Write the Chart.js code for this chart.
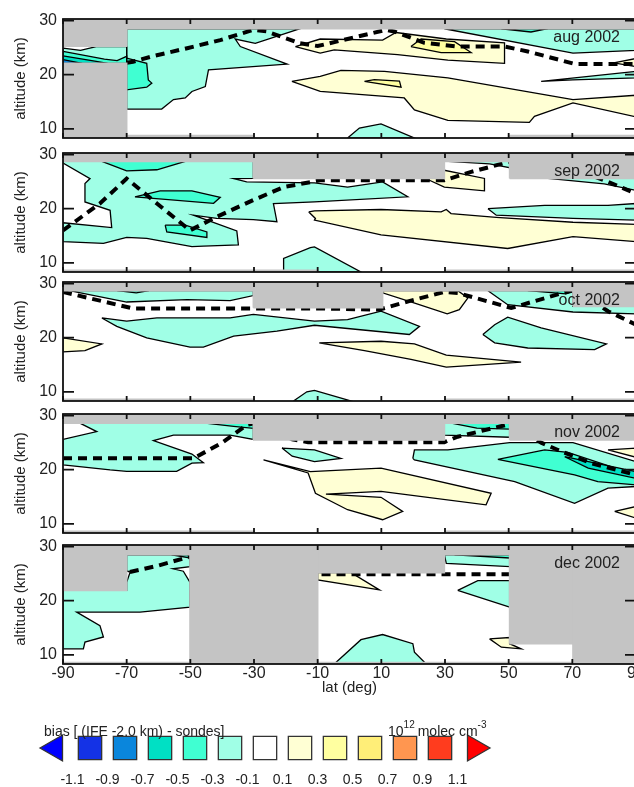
<!DOCTYPE html>
<html>
<head>
<meta charset="utf-8">
<script src="https://cdn.jsdelivr.net/npm/chart.js@4.4.1/dist/chart.umd.min.js"></script>
<style>
html, body { margin: 0; padding: 0; background: #fff; overflow: hidden; width: 634px; height: 787px; }
canvas { position: absolute; left: 0; }
</style>
</head>
<body>
<canvas id="p0" width="640" height="134" style="top:7px"></canvas>
<canvas id="p1" width="640" height="134" style="top:141px"></canvas>
<canvas id="p2" width="640" height="134" style="top:270px"></canvas>
<canvas id="p3" width="640" height="134" style="top:402px"></canvas>
<canvas id="p4" width="640" height="171" style="top:533px"></canvas>
<canvas id="cbar" width="634" height="87" style="top:700px"></canvas>
<script>
// axes
const latTicks = [-90, -70, -50, -30, -10, 10, 30, 50, 70, 90];
const altTicks = [10, 20, 30];
const months = ['aug 2002', 'sep 2002', 'oct 2002', 'nov 2002', 'dec 2002'];

// colour levels (<-1.1 ... >1.1)
const levelColors = ['#0000ff', '#1432e6', '#0a86dc', '#00e0c4', '#40ffd2', '#a0ffe6', '#ffffff',
                     '#ffffd4', '#ffffa0', '#ffee78', '#ff9650', '#ff3c1e', '#ff0000'];
const levelTicks = ['-1.1', '-0.9', '-0.7', '-0.5', '-0.3', '-0.1', '0.1', '0.3', '0.5', '0.7', '0.9', '1.1'];
const noDataColor = '#c4c4c4';

// contour regions [lat, alt]
// aug 2002
const augNoData = [
  [[-90, 25.25], [-70, 25.25], [-70, 30.6], [-90, 30.6]],
  [[-90, 8], [-70, 8], [-70, 22.1], [-90, 22.1]],
  [[-70, 28.5], [90, 28.5], [90, 30.6], [-70, 30.6]],
  [[-70, 8], [-30, 8], [-30, 8.75], [-70, 8.75]],
  [[50, 8], [90, 8], [90, 8.75], [50, 8.75]]
];
const augM01 = [
  [[-70, 28.5], [-15.5, 28.5], [-29.6, 25.8], [-35.9, 26.6], [-34.3, 25.2], [-19.6, 21.95], [-44.3, 20.9], [-45.3, 17.8],
   [-49.5, 16.9], [-51.6, 15.7], [-55.3, 15.4], [-59, 13.65], [-70, 13.65]],
  [[-90, 24.9], [-84.5, 24.5], [-79.6, 25.2], [-70, 25.2], [-70, 22.1], [-90, 22.1]],
  [[29.8, 28.5], [70.2, 24.0], [90, 24.5], [90, 28.5]],
  [[60.2, 18.75], [90, 20.6], [90, 19.4], [70.2, 19.05]],
  [[-0.6, 8.3], [3.1, 10.15], [9.9, 10.9], [20.4, 8.3]]
];
const augM03 = [
  [[-70, 23.06], [-63.7, 22.1], [-63.2, 19.05], [-62.1, 18.45], [-63.7, 17.7], [-70, 17.2]],
  [[47.7, 28.5], [57, 27.9], [62.3, 28.5]],
  [[-90, 24.3], [-77, 22.9], [-73, 22.6], [-70, 23.4], [-70, 22.1], [-90, 22.1]]
];
const augM05 = [[[-90, 23.5], [-80, 22.5], [-76, 22.1], [-90, 22.1]]];
const augM07 = [[[-90, 22.8], [-84, 22.1], [-90, 22.1]]];
const augP01 = [
  [[-17, 25.2], [-9.2, 26.6], [10.4, 26.4], [14.6, 27.8], [30.4, 26.6], [48.7, 25.9], [48.7, 22.1], [30.9, 22.7],
   [15.1, 23.7], [-4.8, 24.6], [-9.2, 24.0]],
  [[-18.1, 18.75], [-9.2, 19.7], [-2.7, 20.8], [11, 20.6], [30.9, 19.4], [70.2, 15.4], [90, 16.2], [90, 12.2],
   [70.2, 14.8], [58.1, 12.3], [56.5, 11.2], [30.9, 11.55], [20.4, 13.5], [17.2, 15.7], [-9.2, 16.9]],
  [[83, 22.2], [90, 23], [90, 21.5]]
];
const augP03 = [
  [[19.3, 25.2], [22.5, 26.6], [33, 26.1], [38.2, 24.1], [28.8, 24.1]],
  [[4.7, 18.75], [7.8, 19.1], [15.7, 18.8], [16.2, 17.7]]
];
const augTropo = [[-70, 22.2], [-68, 22.4], [-62, 23.4], [-51, 24.9], [-40.6, 26.4], [-30.2, 28.3], [-26, 28.0],
  [-15.5, 25.8], [-10, 25.3], [1.5, 26.9], [11.5, 28.3], [14, 28.0], [23.5, 25.9], [34, 25.2], [48.7, 25.2],
  [56, 24.3], [70.7, 22.0], [90, 22.0]];

// sep 2002
const sepNoData = [
  [[-90, 28.76], [90, 28.76], [90, 30.6], [-90, 30.6]],
  [[-30.2, 25.6], [29.8, 25.6], [29.8, 30.6], [-30.2, 30.6]],
  [[50.3, 25.6], [90, 25.6], [90, 30.6], [50.3, 30.6]],
  [[-90, 8], [-10, 8], [-10, 8.6], [-90, 8.6]],
  [[30, 8], [90, 8], [90, 8.6], [30, 8.6]]
];
const sepM01 = [
  [[-90, 28.76], [-30.2, 28.76], [-30.2, 25.6], [-36.4, 25.57], [-32.3, 24.95], [-11, 24.76], [-0.6, 24.0], [10.4, 24.95],
   [18.3, 22.2], [-11, 21.25], [-23.9, 20.96], [-22.8, 17.6], [-30.2, 18.0], [-41.7, 18.2], [-49, 18.8], [-35.4, 15.9],
   [-34.9, 13.3], [-45.9, 13.1], [-49.5, 13.0], [-63.7, 14.5], [-70, 14.7], [-77.3, 13.6], [-90, 13.9], [-90, 17.4],
   [-74.7, 16.5], [-75.2, 19.7], [-83.1, 21.25], [-83.1, 24.65], [-81.5, 25.57], [-90, 28.45]],
  [[-20.7, 8.3], [-20.7, 10.8], [-12.3, 12.8], [-11, 12.95], [3.6, 8.3]],
  [[43.5, 20.0], [61.3, 20.6], [81.2, 20.6], [90, 20.96], [90, 17.9], [70.2, 18.2], [46.1, 18.8]],
  [[62.3, 25.6], [90, 25.6], [90, 23.4], [80, 24.6]],
  [[31, 28.76], [50.3, 28.76], [50.3, 27.6], [44, 28.3]]
];
const sepM03 = [
  [[-77.8, 28.76], [-70, 27.0], [-60.5, 27.2], [-51.6, 28.76]],
  [[-67.4, 22.2], [-59.5, 23.3], [-49.5, 23.3], [-40.6, 22.1], [-42.7, 21.0]],
  [[-57.9, 16.95], [-51.6, 16.95], [-44.8, 15.7], [-44.8, 14.7], [-57.4, 15.7]]
];
const sepP01 = [
  [[-12.8, 19.4], [-11, 19.6], [9.9, 19.85], [28.8, 19.4], [30.4, 19.85], [31.9, 19.1], [46.1, 18.4], [70.2, 17.5],
   [90, 17.1], [90, 13.9], [70.2, 14.85], [49.7, 12.65], [9.9, 15.15], [-11, 17.9], [-10.7, 18.2]],
  [[24.6, 25.4], [29.8, 27.1], [42.4, 25.6], [42.4, 23.3], [29.8, 24.0]]
];
const sepTropo = [[-90, 16.0], [-78.4, 20.96], [-70, 25.57], [-60.5, 20.96], [-50.1, 16.0], [-41.7, 18.5], [-30.2, 21.6],
  [-20.7, 24.0], [-9.2, 25.25], [29.8, 25.25], [38.2, 26.8], [49.7, 28.6], [60, 29.5], [80.1, 25.25], [90, 22.8]];

// oct 2002
const octNoData = [
  [[-90, 28.7], [90, 28.7], [90, 30.6], [-90, 30.6]],
  [[-30.2, 25.55], [10.4, 25.55], [10.4, 30.6], [-30.2, 30.6]],
  [[70.2, 25.8], [90, 25.8], [90, 30.6], [70.2, 30.6]],
  [[-90, 8], [-30, 8], [-30, 8.6], [-90, 8.6]],
  [[30, 8], [90, 8], [90, 8.6], [30, 8.6]]
];
const octM01 = [
  [[-88, 28.7], [-70, 26.6], [-51, 27.05], [-37.5, 26.86], [-30.2, 27.8], [-30.2, 28.7]],
  [[-77.8, 23.65], [-70, 23.05], [-60.5, 23.65], [-37.5, 23.65], [-30.2, 24.3], [-11, 23.05], [-0.6, 23.36], [9.9, 24.9],
   [22, 22.1], [18.8, 20.6], [-0.6, 21.7], [-11, 22.3], [-22.8, 21.2], [-36.4, 20.3], [-45.9, 18.25], [-50.1, 18.25],
   [-63.7, 19.96], [-73.1, 22.1]],
  [[41.9, 20.6], [45.6, 22.4], [49.7, 23.8], [60.2, 21.8], [80.7, 18.85], [77, 17.8], [56, 18.1], [45.6, 19.05]],
  [[43.5, 28.7], [70.2, 28.7], [70.2, 25.8], [90, 25.8], [90, 24.4], [70.2, 24.75], [49.7, 26.1]],
  [[-17.6, 8.3], [-13.4, 10.0], [-11, 10.26], [0.5, 8.3]]
];
const octM03 = [
  [[-73, 28.7], [-67, 28.3], [-63, 28.7]],
  [[56, 28.7], [68, 28.1], [70.2, 28.5], [70.2, 28.7]]
];
const octP01 = [
  [[-90, 19.96], [-77.8, 18.85], [-83.1, 17.6], [-90, 17.4]],
  [[-9.5, 19.05], [9.9, 19.35], [20.4, 18.85], [30.4, 16.8], [53.9, 15.5], [30.4, 14.55], [19.3, 16.0], [4.7, 17.6]],
  [[10.4, 28.7], [34, 28.7], [37.2, 27.35], [34.5, 25.2], [30.7, 24.4], [20, 26.5], [10.4, 28.3]]
];
const octTropo = [[-90, 28.45], [-77.3, 26.7], [-67.9, 25.4], [-9.2, 25.4], [9.4, 25.2], [19.3, 26.86], [29.8, 28.45],
  [34, 28.27], [50.8, 25.5], [67, 28.27], [71, 29], [81.2, 24.9], [90, 22.4]];

// nov 2002
const novNoData = [
  [[-90, 28.6], [90, 28.6], [90, 30.6], [-90, 30.6]],
  [[-30.2, 25.5], [29.8, 25.5], [29.8, 30.6], [-30.2, 30.6]],
  [[50.3, 25.5], [90, 25.5], [90, 30.6], [50.3, 30.6]],
  [[-90, 8], [-30, 8], [-30, 8.6], [-90, 8.6]],
  [[30, 8], [90, 8], [90, 8.6], [30, 8.6]]
];
const novM01 = [
  [[-84.7, 28.6], [-30.2, 28.6], [-30.2, 25.6], [-37.5, 26.4], [-55.3, 26.4], [-61.6, 25.4], [-49.5, 22.9], [-45.9, 21.3],
   [-49.5, 21.2], [-54.3, 19.7], [-70, 19.7], [-75.2, 19.96], [-90, 20.9], [-90, 25.6], [-79.4, 27.05]],
  [[-21.2, 24.0], [-11, 23.65], [-2.7, 22.1], [-11, 21.5], [-18, 22.5]],
  [[19.9, 22.1], [20.4, 23.65], [30.9, 23.65], [50.3, 25.0], [70.2, 25.0], [90, 21.5], [90, 16.9], [81.2, 16.6],
   [70.7, 13.8], [51.9, 17.8], [20.4, 21.8]],
  [[29.8, 28.6], [50.3, 28.6], [50.3, 26.0], [29.8, 26.4]]
];
const novM03 = [
  [[-45.3, 28.6], [-30.2, 28.6], [-30.2, 27.65], [-36.4, 28.0]],
  [[32, 28.6], [50.3, 28.6], [50.3, 27.5], [40, 27.7]],
  [[46.6, 21.9], [61.3, 23.65], [68.6, 23.2], [90, 19.05], [90, 17.2], [78, 17.8], [70.7, 19.05]]
];
const novM05 = [[[67.6, 22.4], [90, 19.65], [90, 18.4], [75, 20.3]]];
const novP01 = [
  [[-27, 21.8], [-12.3, 19.65], [9.9, 20.3], [44.5, 15.65], [42.9, 13.5], [9.9, 16.0], [-7.4, 15.5], [9.9, 14.9],
   [16.7, 12.3], [10.4, 10.75], [-0.6, 12.6], [-10.7, 15.65], [-13, 19.4]],
  [[81.2, 23.65], [90, 24.0], [90, 22.3]],
  [[83.3, 12.3], [90, 13.2], [90, 11.05]]
];
const novTropo = [[-90, 22.1], [-49, 22.1], [-40, 25], [-32.3, 28.27], [-28, 28.8], [-18, 25.6], [-13, 25.1], [29.8, 25.1],
  [34, 26.1], [49.2, 28.27], [55, 27], [60.2, 25.0], [65.5, 23.65], [76, 21.2], [90, 19.05]];

// dec 2002
const decNoData = [
  [[-90, 21.9], [-70, 21.9], [-70, 30.6], [-90, 30.6]],
  [[-70, 28.5], [90, 28.5], [90, 30.6], [-70, 30.6]],
  [[-50.1, 8], [-10, 8], [-10, 30.6], [-50.1, 30.6]],
  [[-10, 25.2], [29.8, 25.2], [29.8, 30.6], [-10, 30.6]],
  [[50.3, 12.05], [70.2, 12.05], [70.2, 30.6], [50.3, 30.6]],
  [[70.2, 8], [90, 8], [90, 30.6], [70.2, 30.6]],
  [[-90, 8], [90, 8], [90, 8.55], [-90, 8.55]]
];
const decM01 = [
  [[-70, 28.5], [-50.1, 28.5], [-50.1, 26.3], [-55.5, 25.9], [-52.2, 25.45], [-50.1, 23.4], [-50.1, 18.8], [-65.8, 17.9],
   [-85.7, 17.9], [-78.4, 15.4], [-77.3, 13.3], [-83.1, 12.35], [-83.6, 11.1], [-90, 11.1], [-90, 21.9], [-70, 21.9],
   [-70, 23.4], [-68.9, 25.3], [-70, 25.5]],
  [[29.8, 28.5], [50.3, 28.5], [50.3, 26.3], [30.4, 26.9]],
  [[34, 21.9], [40.3, 23.7], [50.3, 23.7], [50.3, 18.8]],
  [[-4.8, 8.3], [3.6, 12.8], [10.4, 13.75], [19.9, 12.05], [20.4, 10.5], [24.1, 8.3]]
];
const decM03 = [
  [[-55.9, 28.5], [-50.1, 28.5], [-50.1, 27.9]],
  [[33, 28.5], [50.3, 28.5], [50.3, 27.9]]
];
const decP01 = [
  [[-10, 25.2], [0.5, 25.2], [9.4, 22.0], [-10, 23.85]],
  [[44, 12.95], [50.3, 13.2], [50.3, 12.05], [53.9, 11.1], [47.7, 11.4]]
];
const decTropo = [[-69, 25.3], [-60, 26.5], [-50.1, 28.15], [-30, 27], [-11, 24.9], [50.3, 24.9], [70, 25], [90, 25]];

Chart.defaults.font.family = '"Liberation Sans", Arial, Helvetica, sans-serif';
Chart.defaults.color = '#222';

// frame with inward ticks + month label
const framePlugin = {
  id: 'frame',
  afterDraw(chart, args, opts) {
    const {ctx, chartArea: a, scales: {x, y}} = chart;
    ctx.save();
    ctx.strokeStyle = '#111';
    ctx.lineWidth = 1.8;
    ctx.strokeRect(a.left, a.top, a.right - a.left, a.bottom - a.top);
    ctx.beginPath();
    for (const v of latTicks) {
      const px = x.getPixelForValue(v);
      ctx.moveTo(px, a.top); ctx.lineTo(px, a.top + 5);
      ctx.moveTo(px, a.bottom); ctx.lineTo(px, a.bottom - 5);
    }
    for (const v of altTicks) {
      const py = y.getPixelForValue(v);
      ctx.moveTo(a.left, py); ctx.lineTo(a.left + 11, py);
      ctx.moveTo(a.right, py); ctx.lineTo(a.right - 11, py);
    }
    ctx.stroke();
    ctx.fillStyle = '#222';
    ctx.font = '16px "Liberation Sans", Arial, sans-serif';
    ctx.textAlign = 'right';
    ctx.fillText(opts.label, a.right - 16, a.top + 23);
    ctx.restore();
  }
};

function polyData(poly) {
  return poly.concat([poly[0]]).map(p => ({x: p[0], y: p[1]}));
}

// keep the plot area exactly where the layout padding puts it
function noOverflow(s) {
  s.paddingTop = 0; s.paddingBottom = 0; s.paddingLeft = 0; s.paddingRight = 0;
}

function makePanel(id, month, layers, tropo, noData, isBottom) {
  const datasets = [];
  for (const layer of layers) {
    for (const poly of layer.polys) {
      datasets.push({
        data: polyData(poly),
        showLine: true,
        fill: 'shape',
        backgroundColor: layer.color,
        borderColor: '#000',
        borderWidth: 1.3,
        pointRadius: 0
      });
    }
  }
  datasets.push({
    data: tropo.map(p => ({x: p[0], y: p[1]})),
    showLine: true,
    fill: false,
    borderColor: '#000',
    borderWidth: 4,
    borderDash: [9, 6],
    pointRadius: 0
  });
  for (const poly of noData) {
    datasets.push({
      data: polyData(poly),
      showLine: true,
      fill: 'shape',
      backgroundColor: noDataColor,
      borderWidth: 1.6,
      borderColor: noDataColor,
      pointRadius: 0
    });
  }
  // first dataset at the bottom
  datasets.forEach((d, i) => { d.order = datasets.length - i; });

  new Chart(document.getElementById(id), {
    type: 'scatter',
    data: {datasets},
    plugins: [framePlugin],
    options: {
      responsive: false,
      animation: false,
      events: [],
      layout: {padding: {left: 0, right: 4, top: 12, bottom: isBottom ? 0 : 3}},
      plugins: {legend: {display: false}, tooltip: {enabled: false}, frame: {label: month}},
      scales: {
        x: {
          type: 'linear', min: -90, max: 90,
          afterBuildTicks: s => { s.ticks = latTicks.map(v => ({value: v})); },
          afterFit: s => { s.height = isBottom ? 40 : 0; noOverflow(s); },
          grid: {display: false, drawTicks: false},
          border: {display: false},
          ticks: {display: isBottom, padding: 0, maxRotation: 0, autoSkip: false, font: {size: 16}, color: '#222'},
          title: {display: isBottom, text: 'lat (deg)', font: {size: 15}, color: '#222', padding: {top: 0, bottom: 7}}
        },
        y: {
          type: 'linear', min: 8.3, max: 30.3,
          afterBuildTicks: s => { s.ticks = altTicks.map(v => ({value: v})); },
          afterFit: s => { s.width = 63; noOverflow(s); },
          grid: {display: false, drawTicks: false},
          border: {display: false},
          ticks: {padding: 6, font: {size: 16}, color: '#222'},
          title: {display: true, text: 'altitude (km)', font: {size: 15}, color: '#222', padding: {top: 12, bottom: 0}}
        }
      }
    }
  });
}

function layersOf(m01, m03, m05, m07, p01, p03) {
  return [
    {polys: m01, color: levelColors[5]},
    {polys: m03, color: levelColors[4]},
    {polys: m05, color: levelColors[3]},
    {polys: m07, color: levelColors[2]},
    {polys: p01, color: levelColors[7]},
    {polys: p03, color: levelColors[8]}
  ];
}

makePanel('p0', months[0], layersOf(augM01, augM03, augM05, augM07, augP01, augP03), augTropo, augNoData, false);
makePanel('p1', months[1], layersOf(sepM01, sepM03, [], [], sepP01, []), sepTropo, sepNoData, false);
makePanel('p2', months[2], layersOf(octM01, octM03, [], [], octP01, []), octTropo, octNoData, false);
makePanel('p3', months[3], layersOf(novM01, novM03, novM05, [], novP01, []), novTropo, novNoData, false);
makePanel('p4', months[4], layersOf(decM01, decM03, [], [], decP01, []), decTropo, decNoData, true);

// colour bar
const cbarText = {
  id: 'cbarText',
  afterDraw(chart) {
    const ctx = chart.ctx;
    ctx.save();
    ctx.fillStyle = '#222';
    ctx.textAlign = 'left';
    ctx.textBaseline = 'alphabetic';
    const big = '14px "Liberation Sans", Arial, sans-serif';
    const small = '10px "Liberation Sans", Arial, sans-serif';
    ctx.font = big;
    ctx.fillText('bias [ (IFE -2.0 km) - sondes]', 44, 36);
    let x = 388;
    ctx.fillText('10', x, 36); x += ctx.measureText('10').width;
    ctx.font = small; ctx.fillText('12', x, 28); x += ctx.measureText('12').width + 3;
    ctx.font = big; ctx.fillText('molec cm', x, 36); x += ctx.measureText('molec cm').width;
    ctx.font = small; ctx.fillText('-3', x, 28);
    ctx.restore();
  }
};

const last = levelColors.length - 1;
new Chart(document.getElementById('cbar'), {
  type: 'scatter',
  data: {
    datasets: [{
      data: levelColors.map((c, i) => ({x: i, y: 0.5})),
      pointStyle: levelColors.map((c, i) => (i === 0 || i === last) ? 'triangle' : 'rect'),
      pointRotation: levelColors.map((c, i) => i === 0 ? -90 : (i === last ? 90 : 0)),
      pointRadius: levelColors.map((c, i) => (i === 0 || i === last) ? 15 : 16.5),
      pointBackgroundColor: levelColors,
      pointBorderColor: '#333',
      pointBorderWidth: 1.3
    }]
  },
  plugins: [cbarText],
  options: {
    responsive: false,
    animation: false,
    events: [],
    layout: {padding: {left: 20, right: 124, top: 30, bottom: 0}},
    plugins: {legend: {display: false}, tooltip: {enabled: false}},
    scales: {
      x: {
        type: 'linear', min: -1, max: 13,
        afterBuildTicks: s => { s.ticks = levelTicks.map((t, i) => ({value: i + 0.5})); },
        afterFit: s => { s.height = 21; noOverflow(s); },
        grid: {display: false, drawTicks: false},
        border: {display: false},
        ticks: {padding: 6, font: {size: 14}, color: '#222', maxRotation: 0, autoSkip: false,
                callback: (v, i) => levelTicks[i]}
      },
      y: {type: 'linear', min: 0, max: 1, display: false}
    }
  }
});
</script>
</body>
</html>
